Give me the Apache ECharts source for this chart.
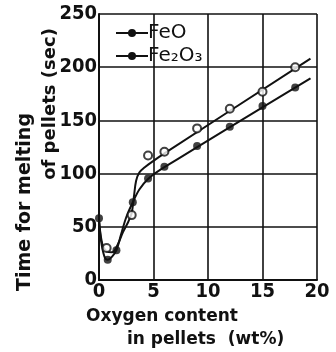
<!DOCTYPE html>
<html>
<head>
<meta charset="UTF-8">
<title></title>
<style>
html,body{margin:0;padding:0;background:#fff;}
#chart{width:336px;height:352px;}
</style>
</head>
<body>
<div id="chart"></div>
<script src="https://cdn.jsdelivr.net/npm/echarts@6/dist/echarts.min.js"></script>
<script>
// measured points (x = wt% oxygen, y = sec)
var feoPoints = [[0.7, 30], [3.0, 61], [4.5, 117], [6, 120.5], [9, 142.5], [12, 161], [15, 177], [18, 200]];
var fe2o3Points = [[0, 58], [0.8, 19], [1.6, 28], [3.1, 73], [4.5, 95.5], [6, 106.5], [9, 126], [12, 144], [15, 163.5], [18, 181]];
// hand drawn curves
var feoCurve = [[0, 56], [0.3, 34], [0.7, 27], [1.2, 26], [1.7, 33], [2.2, 45], [2.7, 55], [3.0, 63], [3.2, 78], [3.4, 93], [3.7, 101], [4.2, 106], [5, 112], [6, 119], [19.4, 208]];
var fe2o3Curve = [[0, 58], [0.2, 36], [0.5, 22], [0.8, 19], [1.2, 22], [1.6, 28], [2.0, 42], [2.5, 59], [3.1, 73], [3.7, 85], [4.5, 95], [6, 106], [19.4, 189.6]];
var xTicks = [0, 20, 5];
var yTicks = [0, 250, 50];

var myChart = echarts.init(document.getElementById('chart'));
var ink = '#111';
var tickFont = 'DejaVu Sans Condensed, DejaVu Sans, sans-serif';
var titleFont = 'DejaVu Sans, sans-serif';

var option = {
    backgroundColor: '#fff',
    animation: false,
    grid: {left: 99, right: 19, top: 14, bottom: 72},
    legend: {
        data: ['FeO', 'Fe₂O₃'],
        orient: 'vertical',
        left: 110,
        top: 18,
        itemWidth: 32,
        itemHeight: 10,
        itemGap: 3,
        textStyle: {fontFamily: titleFont, fontSize: 20, color: ink, padding: [0, 0, 0, -5]}
    },
    xAxis: {
        type: 'value',
        min: xTicks[0], max: xTicks[1], interval: xTicks[2],
        axisLine: {show: true, lineStyle: {color: ink, width: 2}},
        axisTick: {show: false},
        splitLine: {show: true, lineStyle: {color: ink, width: 1.6}},
        axisLabel: {color: ink, fontFamily: tickFont, fontWeight: 'bold', fontSize: 20, margin: 2}
    },
    yAxis: {
        type: 'value',
        min: yTicks[0], max: yTicks[1], interval: yTicks[2],
        axisLine: {show: true, lineStyle: {color: ink, width: 2}},
        axisTick: {show: false},
        splitLine: {show: true, lineStyle: {color: ink, width: 1.6}},
        axisLabel: {color: ink, fontFamily: tickFont, fontWeight: 'bold', fontSize: 20, margin: 2}
    },
    graphic: [
        {type: 'text', rotation: Math.PI / 2, x: 25, y: 202,
         style: {text: 'Time for melting', font: 'bold 19px ' + titleFont, fill: ink, textAlign: 'center', textVerticalAlign: 'middle'}},
        {type: 'text', rotation: Math.PI / 2, x: 50, y: 104,
         style: {text: 'of pellets (sec)', font: 'bold 18px ' + titleFont, fill: ink, textAlign: 'center', textVerticalAlign: 'middle'}},
        {type: 'text', x: 86, y: 317,
         style: {text: 'Oxygen content', font: 'bold 17px ' + titleFont, fill: ink, textAlign: 'left', textVerticalAlign: 'middle'}},
        {type: 'text', x: 127, y: 340,
         style: {text: 'in pellets  (wt%)', font: 'bold 17px ' + titleFont, fill: ink, textAlign: 'left', textVerticalAlign: 'middle'}}
    ],
    series: [
        {
            name: 'FeO', type: 'line', data: feoCurve, smooth: 0.35,
            symbol: 'circle', symbolSize: 7, showSymbol: false,
            itemStyle: {color: ink}, lineStyle: {color: ink, width: 2}
        },
        {
            name: 'Fe₂O₃', type: 'line', data: fe2o3Curve, smooth: 0.35,
            symbol: 'circle', symbolSize: 7, showSymbol: false,
            itemStyle: {color: ink}, lineStyle: {color: ink, width: 2}
        },
        {
            name: 'FeO data', type: 'scatter', data: feoPoints, symbolSize: 8, z: 5,
            itemStyle: {color: '#fff', borderColor: ink, borderWidth: 2}
        },
        {
            name: 'Fe2O3 data', type: 'scatter', data: fe2o3Points, symbolSize: 8, z: 5,
            itemStyle: {color: ink}
        }
    ]
};
myChart.setOption(option);
</script>
</body>
</html>
